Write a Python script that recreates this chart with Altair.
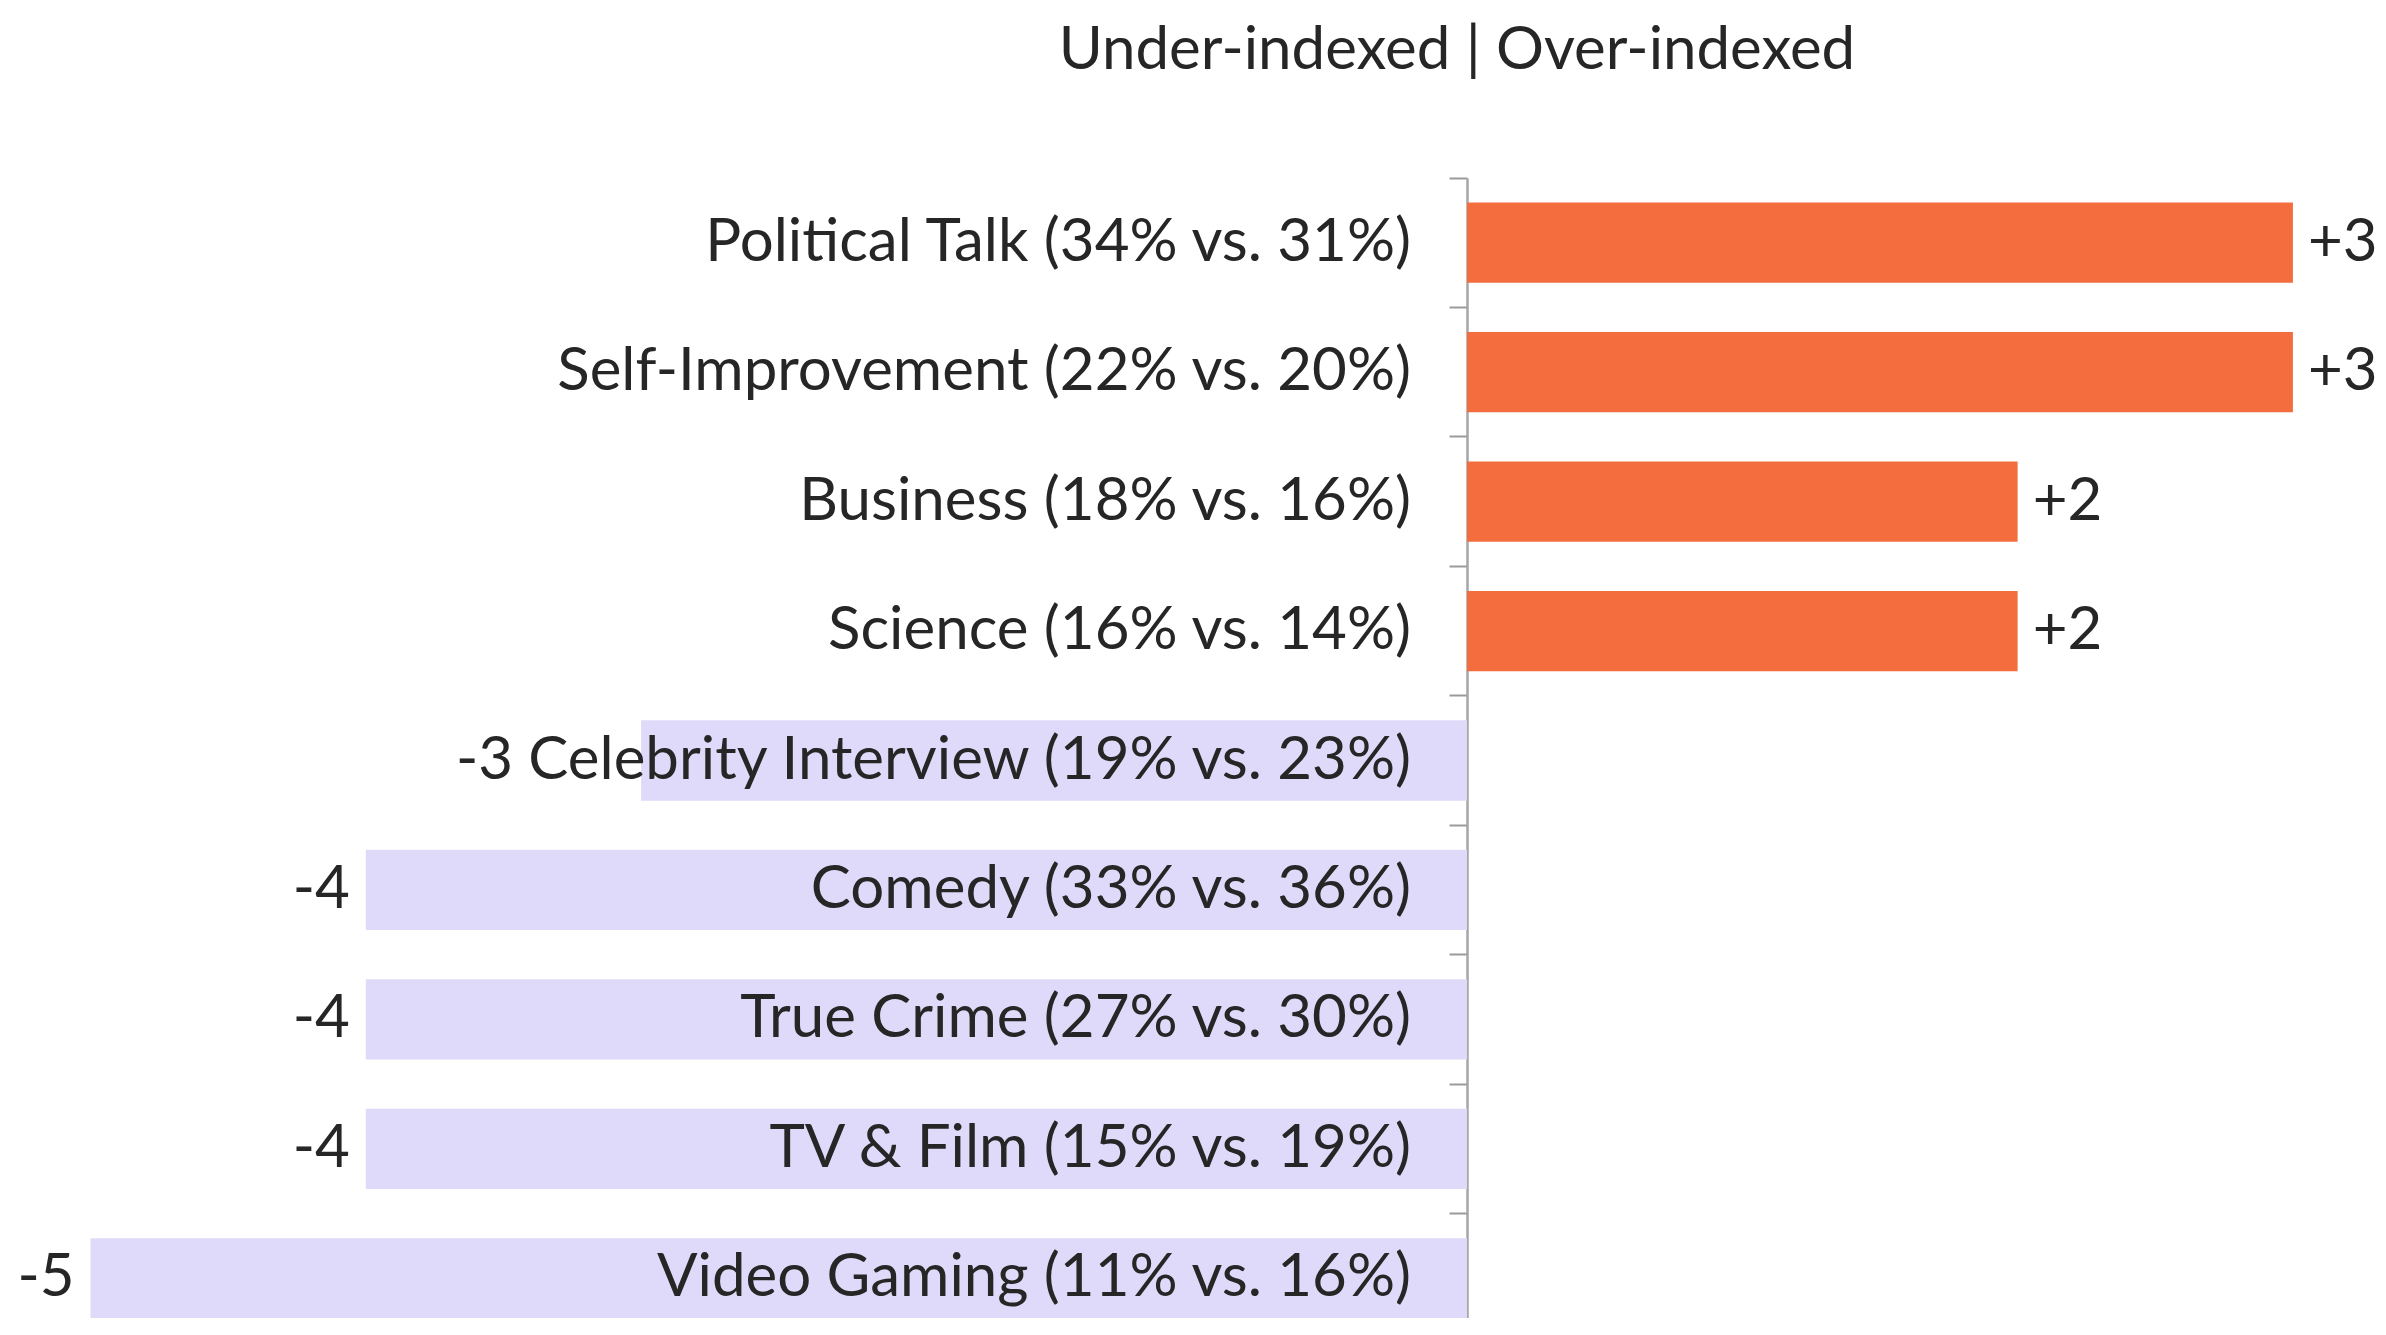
import altair as alt
import pandas as pd

names = ["Political Talk", "Self-Improvement", "Business", "Science",
         "Celebrity Interview", "Comedy", "True Crime", "TV & Film", "Video Gaming"]
pct_a = [34, 22, 18, 16, 19, 33, 27, 15, 11]
pct_b = [31, 20, 16, 14, 23, 36, 30, 19, 16]
index_diff = [3, 3, 2, 2, -3, -4, -4, -4, -5]
# value label sits in front of the category text when the bar is shorter than the text
label_before_name = [False, False, False, False, True, False, False, False, False]

def fmt(v):
    return f"+{v}" if v > 0 else f"{v}"

rows = []
for n, a, b, v, inl in zip(names, pct_a, pct_b, index_diff, label_before_name):
    cat = f"{n} ({a}% vs. {b}%)"
    rows.append({
        "name": n,
        "cat_label": (fmt(v) + " " + cat) if inl else cat,
        "value": v,
        "vlabel": fmt(v),
        "inline": inl,
        "sign": "pos" if v > 0 else "neg",
    })
df = pd.DataFrame(rows)

FONT = "Lato"
FS = 60
TXT = "#262626"

y_axis = alt.Axis(labels=False, title=None, offset=-1459, bandPosition=0,
                  tickSize=18, tickWidth=2, tickColor="#9a9a9a",
                  domainColor="#a6a6a6", domainWidth=2.5, grid=False)
y_scale = alt.Scale(paddingInner=0, paddingOuter=0, range=[0, 1165])
x_scale = alt.Scale(domain=[-5.2997, 3.309], nice=False, zero=True)

def Y():
    return alt.Y("name:N", sort=names, scale=y_scale, axis=y_axis)

base = alt.Chart(df)

bars = base.mark_bar(height={"band": 0.62}).encode(
    x=alt.X("value:Q", scale=x_scale, axis=None),
    y=Y(),
    color=alt.Color("sign:N", scale=alt.Scale(domain=["pos", "neg"], range=["#F36D3E", "#DFDAF9"]), legend=None),
)

cat_text = base.mark_text(align="right", baseline="middle", dx=-56, font=FONT, fontSize=FS, color=TXT).encode(
    x=alt.datum(0, scale=x_scale, axis=None),
    y=Y(),
    text="cat_label:N",
)

pos_text = base.transform_filter(alt.datum.value > 0).mark_text(
    align="left", baseline="middle", dx=15, font=FONT, fontSize=FS, color=TXT).encode(
    x=alt.X("value:Q", scale=x_scale, axis=None),
    y=Y(),
    text="vlabel:N",
)

neg_text = base.transform_filter((alt.datum.value < 0) & (alt.datum.inline == False)).mark_text(
    align="right", baseline="middle", dx=-16, font=FONT, fontSize=FS, color=TXT).encode(
    x=alt.X("value:Q", scale=x_scale, axis=None),
    y=Y(),
    text="vlabel:N",
)

chart = alt.layer(bars, cat_text, pos_text, neg_text).properties(
    width=2370, height=1140,
    autosize=alt.AutoSizeParams(type="none"),
    padding={"left": 0, "top": 170, "right": 0, "bottom": 0},
    view=alt.ViewBackground(fill="white", stroke="white", strokeWidth=0, strokeOpacity=0),
    title=alt.TitleParams(text="Under-indexed | Over-indexed", font=FONT, fontSize=FS,
                          fontWeight="normal", color=TXT, anchor="middle", frame="group",
                          dx=264, offset=48, baseline="alphabetic"),
).configure_view(stroke="transparent", strokeWidth=0).configure(
    background="white", style={"cell": {"stroke": "transparent", "strokeWidth": 0}}
)

chart.save("out.html", embed_options={"renderer": "svg", "actions": False})
